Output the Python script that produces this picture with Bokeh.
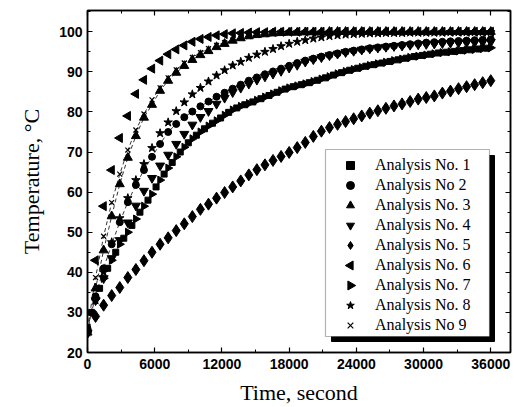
import math
from bokeh.plotting import figure
from bokeh.models import Range1d, LinearAxis, BoxAnnotation, Legend, LegendItem, FixedTicker
from bokeh.embed import file_html
from bokeh.resources import INLINE

# ---------------- data ----------------
TIME = [0, 720, 1440, 2160, 2880, 3600, 4320, 5040, 5760, 6480,
        7200, 7920, 8640, 9360, 10080, 10800, 11520, 12240, 12960, 13680,
        14400, 15120, 15840, 16560, 17280, 18000, 18720, 19440, 20160, 20880,
        21600, 22320, 23040, 23760, 24480, 25200, 25920, 26640, 27360, 28080,
        28800, 29520, 30240, 30960, 31680, 32400, 33120, 33840, 34560, 35280, 36000]
TIME_HALF = [360, 1080, 1800, 2520, 3240, 3960, 4680, 5400, 6120, 6840,
             7560, 8280, 9000, 9720, 10440, 11160, 11880, 12600, 13320, 14040,
             14760, 15480, 16200, 16920, 17640, 18360, 19080, 19800, 20520, 21240,
             21960, 22680, 23400, 24120, 24840, 25560, 26280, 27000, 27720, 28440,
             29160, 29880, 30600, 31320, 32040, 32760, 33480, 34200, 34920, 35640]

A1 = [30.0, 36.0, 41.0, 45.0, 48.5, 51.7, 55.0, 58.0, 61.3, 64.5,
      67.4, 70.0, 72.3, 74.2, 75.8, 77.2, 78.5, 79.9, 81.0, 81.8,
      82.5, 83.3, 84.1, 84.9, 85.7, 86.3, 86.8, 87.3, 87.9, 88.5,
      89.2, 89.8, 90.4, 90.9, 91.4, 91.8, 92.2, 92.6, 93.0, 93.4,
      93.8, 94.1, 94.4, 94.7, 94.9, 95.1, 95.3, 95.5, 95.7, 95.9]
A2 = [26.0, 34.0, 41.0, 47.0, 52.5, 57.5, 61.8, 65.5, 68.8, 72.0,
      75.0, 77.0, 78.7, 80.1, 81.4, 82.6, 83.8, 84.8, 85.8, 86.8,
      87.8, 88.6, 89.4, 90.1, 90.8, 91.5, 92.2, 92.8, 93.3, 93.8,
      94.2, 94.6, 95.0, 95.3, 95.6, 95.9, 96.1, 96.3, 96.5, 96.7,
      96.9, 97.1, 97.3, 97.4, 97.5, 97.6, 97.7, 97.8, 97.9, 98.0, 98.1]
A3 = [25.0, 36.0, 45.5, 54.0, 62.0, 68.6, 74.0, 78.6, 81.8, 85.3,
      87.8, 89.8, 91.5, 93.0, 94.2, 95.2, 96.2, 97.0, 97.8, 98.4,
      98.9, 99.2, 99.4, 99.6, 99.7, 99.8, 99.8, 99.9, 99.9, 99.9,
      100.0, 100.0, 100.0, 100.0, 100.0, 100.0, 100.0, 100.0, 100.0, 100.0,
      100.0, 100.0, 100.0, 100.0, 100.0, 100.0, 100.0, 100.0, 100.0, 100.0, 100.0]
A4 = [25.0, 33.0, 38.5, 43.5, 48.0, 52.4, 56.6, 60.3, 63.5, 66.6,
      69.3, 72.0, 74.5, 76.8, 78.7, 80.2, 82.0, 83.5, 84.9, 86.0,
      87.0, 88.0, 88.8, 89.5, 90.2, 91.0, 91.7, 92.5, 93.1, 93.6,
      94.1, 94.5, 94.9, 95.2, 95.5, 95.8, 96.0, 96.2, 96.4, 96.5,
      96.7, 96.8, 96.9, 97.0, 97.1, 97.2, 97.25, 97.3, 97.35, 97.4, 97.45]
A5 = [25.0, 29.0, 31.8, 34.2, 36.2, 38.7, 40.7, 42.9, 45.0, 47.0,
      48.6, 50.4, 52.1, 53.9, 55.7, 57.0, 58.5, 59.9, 61.3, 62.8,
      64.3, 65.6, 66.8, 67.9, 68.9, 69.9, 71.1, 72.4, 73.9, 75.2,
      76.1, 76.9, 77.6, 78.3, 79.0, 79.7, 80.3, 80.9, 81.5, 82.0,
      82.6, 83.2, 83.6, 84.0, 84.7, 85.2, 85.8, 86.3, 86.8, 87.3, 87.8]
A6 = [26.0, 43.0, 56.5, 65.5, 73.5, 79.0, 84.5, 88.0, 90.8, 92.8,
      94.4, 95.6, 96.6, 97.5, 98.2, 98.7, 99.1, 99.4, 99.6, 99.7,
      99.8, 99.9, 99.9, 100.0, 100.0, 100.0, 100.0, 100.0, 100.0, 100.0,
      100.0, 100.0, 100.0, 100.0, 100.0, 100.0, 100.0, 100.0, 100.0, 100.0,
      100.0, 100.0, 100.0, 100.0, 100.0, 100.0, 100.0, 100.0, 100.0, 100.0, 100.0]
A7 = [25.4, 33.5, 38.5, 43.0, 47.0, 50.0, 53.3, 56.5, 59.5, 63.0,
      66.0, 68.8, 71.2, 73.3, 75.0, 76.5, 77.8, 79.2, 80.5, 81.4,
      82.1, 82.9, 83.7, 84.5, 85.3, 86.0, 86.5, 87.0, 87.6, 88.2,
      88.8, 89.5, 90.1, 90.6, 91.1, 91.6, 92.0, 92.4, 92.8, 93.2,
      93.6, 93.9, 94.2, 94.5, 94.8, 95.0, 95.2, 95.4, 95.6, 95.8, 96.0]
A8 = [25.0, 33.0, 40.0, 47.5, 53.5, 58.5, 63.0, 67.0, 71.0, 74.7,
      77.4, 80.2, 82.4, 84.4, 86.0, 87.6, 89.1, 90.4, 91.6, 92.5,
      93.5, 94.3, 95.0, 95.7, 96.4, 97.0, 97.5, 97.9, 98.3, 98.6,
      98.9, 99.1, 99.3, 99.4, 99.5, 99.6, 99.6, 99.7, 99.7, 99.7,
      99.8, 99.8, 99.8, 99.8, 99.8, 99.9, 99.9, 99.9, 99.9, 99.9, 99.9]
A9 = [26.0, 38.7, 49.0, 57.4, 64.5, 70.5, 75.5, 79.5, 83.0, 86.0,
      88.5, 90.5, 92.2, 93.6, 94.8, 95.8, 96.6, 97.3, 97.9, 98.4,
      98.8, 99.1, 99.3, 99.5, 99.6, 99.7, 99.8, 99.8, 99.9, 99.9,
      100.0, 100.0, 100.0, 100.0, 100.0, 100.0, 100.0, 100.0, 100.0, 100.0,
      100.0, 100.0, 100.0, 100.0, 100.0, 100.0, 100.0, 100.0, 100.0, 100.0, 100.0]

LABELS = ["Analysis No. 1", "Analysis No 2", "Analysis No. 3", "Analysis No. 4",
          "Analysis No. 5", "Analysis No. 6", "Analysis No. 7", "Analysis No. 8",
          "Analysis No 9"]
X_TICKS = [0, 6000, 12000, 18000, 24000, 30000, 36000]
X_MINOR = [3000, 9000, 15000, 21000, 27000, 33000, 39000]
Y_TICKS = [20, 30, 40, 50, 60, 70, 80, 90, 100]
Y_MINOR = [25, 35, 45, 55, 65, 75, 85, 95, 105]

# ---------------- figure ----------------
XMAX, YMIN, YMAX = 37760, 20, 105.3
FL, FT, FW, FH = 87, 10, 423, 342

p = figure(width=514, height=407, output_backend="svg", toolbar_location=None,
           x_range=Range1d(0, XMAX), y_range=Range1d(YMIN, YMAX),
           min_border_left=FL, min_border_right=514 - FL - FW,
           min_border_top=FT, min_border_bottom=407 - FT - FH)
p.background_fill_color = "white"
p.border_fill_color = "white"
p.outline_line_color = "black"
p.outline_line_width = 1.5
p.xgrid.visible = False
p.ygrid.visible = False

def style_axis(ax, show_labels=True, ticks=None):
    ax.axis_line_width = 1.5
    ax.axis_line_color = "black"
    ax.major_tick_in = 5
    ax.major_tick_out = 0
    ax.minor_tick_in = 3
    ax.minor_tick_out = 0
    ax.major_tick_line_width = 1.2
    ax.minor_tick_line_width = 1
    if show_labels:
        ax.major_label_text_font = "Liberation Sans"
        ax.major_label_text_font_style = "bold"
        ax.major_label_text_font_size = "14px"
        ax.major_label_text_color = "black"
    else:
        ax.major_label_overrides = {t: "" for t in ticks}
        ax.major_label_standoff = 0

p.xaxis.ticker = FixedTicker(ticks=X_TICKS, minor_ticks=X_MINOR)
p.yaxis.ticker = FixedTicker(ticks=Y_TICKS, minor_ticks=Y_MINOR)
style_axis(p.xaxis[0])
style_axis(p.yaxis[0])
p.xaxis.major_label_standoff = 6
p.yaxis.major_label_standoff = 5
p.xaxis.axis_label = "Time, second"
p.yaxis.axis_label = "Temperature, °C"
for ax in (p.xaxis[0], p.yaxis[0]):
    ax.axis_label_text_font = "Liberation Serif"
    ax.axis_label_text_font_style = "normal"
    ax.axis_label_text_font_size = "22px"
    ax.axis_label_text_color = "black"
p.xaxis.axis_label_standoff = 8
p.yaxis.axis_label_standoff = 12

top_ax = LinearAxis(ticker=FixedTicker(ticks=X_TICKS, minor_ticks=X_MINOR))
style_axis(top_ax, show_labels=False, ticks=X_TICKS)
p.add_layout(top_ax, "above")
right_ax = LinearAxis(ticker=FixedTicker(ticks=Y_TICKS, minor_ticks=Y_MINOR))
style_axis(right_ax, show_labels=False, ticks=Y_TICKS)
p.add_layout(right_ax, "right")

# ---------------- series ----------------
p.line(TIME, A3, line_color="black", line_width=0.8, line_dash="4 3")
p.line(TIME, A2, line_color="black", line_width=0.8, line_dash="4 3")
p.line(TIME, A9, line_color="black", line_width=0.8, line_dash="4 3")

r5 = p.scatter(TIME, A5, marker="diamond", size=12, color="black")
r7 = p.scatter(TIME, A7, marker="triangle", angle=-math.pi / 2, size=8, color="black")
r1 = p.scatter(TIME_HALF, A1, marker="square", size=6, color="black")
r4 = p.scatter(TIME, A4, marker="inverted_triangle", size=9, color="black")
r2 = p.scatter(TIME, A2, marker="circle", size=7, color="black")
r8 = p.scatter(TIME, A8, marker="star", size=9, color="black")
r3 = p.scatter(TIME, A3, marker="triangle", size=9, color="black")
r9 = p.scatter(TIME, A9, marker="x", size=7, line_color="black", line_width=1.2)
r6 = p.scatter(TIME, A6, marker="triangle", angle=math.pi / 2, size=9, color="black")

# ---------------- legend with shadow ----------------
def dx(px):
    return (px - FL) / FW * XMAX

def dy(py):
    return YMIN + (FT + FH - py) / FH * (YMAX - YMIN)

shadow = BoxAnnotation(left=dx(331), right=dx(494), top=dy(155), bottom=dy(341),
                       fill_color="black", fill_alpha=1, line_color="black", line_alpha=1)
box = BoxAnnotation(left=dx(325), right=dx(489), top=dy(149), bottom=dy(336),
                    fill_color="white", fill_alpha=1, line_color="black", line_width=1.2)
p.add_layout(shadow)
p.add_layout(box)

# legend keys for the rotated triangles (legend glyphs ignore the angle)
blank6 = p.scatter([], [], marker="triangle", alpha=0)
blank7 = p.scatter([], [], marker="triangle", alpha=0)
LEG_X, LEG_ROW0, LEG_ROW = 350, 165, 20
p.scatter([dx(LEG_X)], [dy(LEG_ROW0 + 5 * LEG_ROW)], marker="triangle",
          angle=math.pi / 2, size=9, color="black", level="overlay")
p.scatter([dx(LEG_X)], [dy(LEG_ROW0 + 6 * LEG_ROW)], marker="triangle",
          angle=-math.pi / 2, size=9, color="black", level="overlay")

rs = [r1, r2, r3, r4, r5, blank6, blank7, r8, r9]
legend = Legend(items=[LegendItem(label=l, renderers=[r]) for l, r in zip(LABELS, rs)],
                location=(239, 13), orientation="vertical",
                label_text_font="Liberation Serif", label_text_font_size="16px",
                label_text_color="black", label_height=20, glyph_height=20,
                glyph_width=40, label_standoff=5, spacing=0, padding=4, margin=0,
                background_fill_alpha=0, border_line_alpha=0)
p.add_layout(legend)

open("out.html", "w").write(file_html(p, INLINE))
